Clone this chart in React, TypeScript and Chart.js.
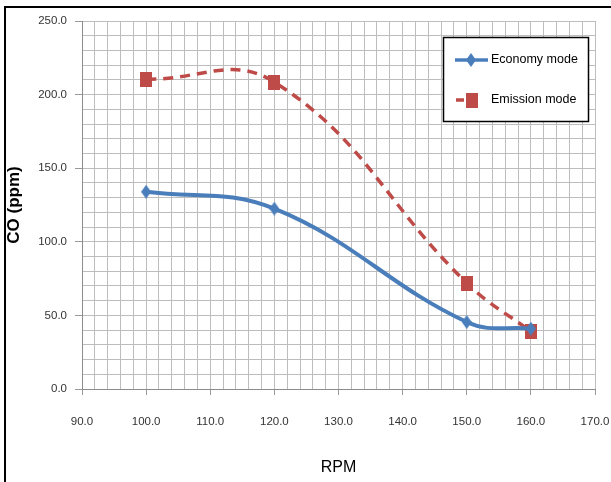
import React, { useEffect, useRef } from 'react';
import { Chart, registerables } from 'chart.js';

Chart.register(...registerables);

// ---- data ----
const rpm = [100, 120, 150, 160];
const economyMode = [134, 122.5, 45.5, 41];
const emissionMode = [210.5, 208.5, 72, 39];
const seriesNames = ['Economy mode', 'Emission mode'];
const xTitle = 'RPM';
const yTitle = 'CO (ppm)';

const BLUE = '#4a7ebb';
const RED = '#be4b48';
const SANS = '"Liberation Sans", Arial, sans-serif';

const isMultiple = (v: number, m: number) => Math.abs(v / m - Math.round(v / m)) < 1e-6;

export default function App() {
  const ref = useRef<HTMLCanvasElement | null>(null);

  useEffect(() => {
    if (!ref.current) return;

    const sq = document.createElement('canvas');
    sq.width = 12;
    sq.height = 15;
    const sctx = sq.getContext('2d')!;
    sctx.fillStyle = RED;
    sctx.fillRect(0, 0, 12, 15);

    const dm = document.createElement('canvas');
    dm.width = 10;
    dm.height = 14;
    const dctx = dm.getContext('2d')!;
    dctx.fillStyle = BLUE;
    dctx.beginPath();
    dctx.moveTo(5, 0);
    dctx.lineTo(10, 7);
    dctx.lineTo(5, 14);
    dctx.lineTo(0, 7);
    dctx.closePath();
    dctx.fill();

    const frame = {
      id: 'frame',
      beforeDraw(chart: any) {
        const c = chart.ctx;
        c.save();
        c.fillStyle = '#ffffff';
        c.fillRect(0, 0, chart.width, chart.height);
        c.fillStyle = '#000000';
        c.fillRect(4, 6, 2, chart.height - 6);
        c.fillRect(4, 6, chart.width - 4, 2);
        c.restore();
      },
    };

    const legendBox = {
      id: 'legendBox',
      afterDraw(chart: any) {
        const c = chart.ctx;
        c.save();
        c.fillStyle = '#ffffff';
        c.fillRect(443, 37, 145, 84);
        c.strokeStyle = '#000000';
        c.lineWidth = 1.5;
        c.strokeRect(443.5, 37.5, 145, 84);

        // economy
        c.strokeStyle = BLUE;
        c.lineWidth = 3.5;
        c.beginPath();
        c.moveTo(455, 60);
        c.lineTo(488, 60);
        c.stroke();
        c.drawImage(dm, 466, 53);

        // emission
        c.strokeStyle = RED;
        c.lineWidth = 3.5;
        c.beginPath();
        c.moveTo(456, 100);
        c.lineTo(464, 100);
        c.stroke();
        c.drawImage(sq, 466, 93);

        c.fillStyle = '#000000';
        c.font = '12.5px ' + SANS;
        c.textBaseline = 'middle';
        c.textAlign = 'left';
        c.fillText(seriesNames[0], 491, 60);
        c.fillText(seriesNames[1], 491, 100);
        c.restore();
      },
    };

    const chart = new Chart(ref.current, {
      type: 'line',
      data: {
        datasets: [
          {
            label: seriesNames[0],
            data: rpm.map((x, i) => ({ x, y: economyMode[i] })),
            borderColor: BLUE,
            backgroundColor: BLUE,
            borderWidth: 4,
            tension: 0.4,
            pointStyle: dm as any,
            pointRadius: 6,
            pointBorderWidth: 0,
          },
          {
            label: seriesNames[1],
            data: rpm.map((x, i) => ({ x, y: emissionMode[i] })),
            borderColor: RED,
            backgroundColor: RED,
            borderWidth: 3.5,
            borderDash: [10, 7],
            tension: 0.42,
            pointStyle: sq as any,
            pointRadius: 7,
            pointBorderWidth: 0,
          },
        ],
      },
      options: {
        animation: false,
        responsive: false,
        devicePixelRatio: 1,
        layout: { padding: { top: 21, right: 0, left: 0, bottom: 0 } },
        plugins: {
          legend: { display: false },
          tooltip: { enabled: false },
        },
        scales: {
          x: {
            type: 'linear',
            min: 90,
            max: 170,
            afterFit: (s: any) => {
              s.height = 93;
              s.paddingRight = 16;
              s.paddingLeft = 0;
            },
            ticks: {
              stepSize: 2,
              autoSkip: false,
              maxRotation: 0,
              padding: 20,
              color: '#333333',
              font: { family: SANS, size: 11.5 },
              callback: (v: any) => (isMultiple(Number(v), 10) ? Number(v).toFixed(1) : ''),
            },
            grid: {
              color: '#bdbdbd',
              lineWidth: 1,
              tickLength: 6,
              tickColor: (ctx: any) => (ctx.tick && isMultiple(ctx.tick.value, 10) ? '#999999' : 'rgba(0,0,0,0)'),
            },
            border: { color: '#8c8c8c' },
            title: {
              display: true,
              text: xTitle,
              color: '#000000',
              font: { family: SANS, size: 16 },
              padding: { top: 0, bottom: 5 },
            },
          },
          y: {
            type: 'linear',
            min: 0,
            max: 250,
            afterFit: (s: any) => {
              s.width = 82;
            },
            ticks: {
              stepSize: 10,
              autoSkip: false,
              padding: 8,
              color: '#333333',
              font: { family: SANS, size: 11.5 },
              callback: (v: any) => (isMultiple(Number(v), 50) ? Number(v).toFixed(1) : ''),
            },
            grid: {
              color: '#bdbdbd',
              lineWidth: 1,
              tickLength: 7,
              tickColor: (ctx: any) => (ctx.tick && isMultiple(ctx.tick.value, 50) ? '#999999' : 'rgba(0,0,0,0)'),
            },
            border: { color: '#8c8c8c' },
            title: {
              display: true,
              text: yTitle,
              color: '#000000',
              font: { family: SANS, size: 17, weight: 'bold' },
              padding: { top: 4, bottom: 0 },
            },
          },
        },
      },
      plugins: [frame, legendBox],
    });

    return () => chart.destroy();
  }, []);

  return (
    <div style={{ position: 'fixed', left: 0, top: 0, width: 611, height: 482, background: '#fff' }}>
      <canvas ref={ref} width={611} height={482} style={{ display: 'block', width: 611, height: 482 }} />
    </div>
  );
}
